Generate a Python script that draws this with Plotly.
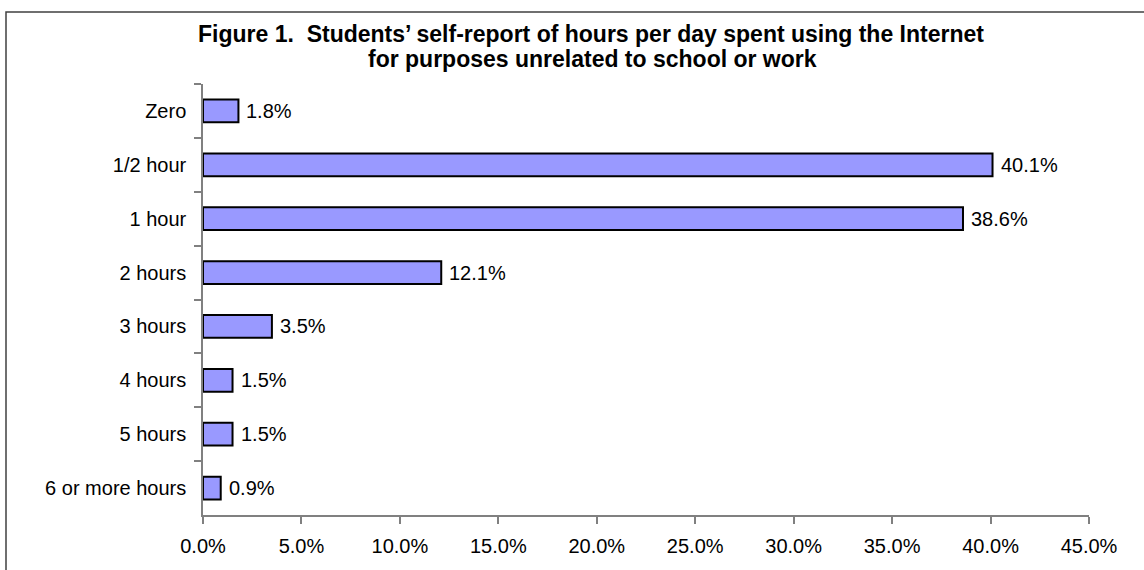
import plotly.graph_objects as go

categories = ["Zero", "1/2 hour", "1 hour", "2 hours", "3 hours", "4 hours", "5 hours", "6 or more hours"]
percent_values = [1.8, 40.1, 38.6, 12.1, 3.5, 1.5, 1.5, 0.9]
x_tick_values = [0, 5, 10, 15, 20, 25, 30, 35, 40, 45]
x_tick_labels = ["0.0%", "5.0%", "10.0%", "15.0%", "20.0%", "25.0%", "30.0%", "35.0%", "40.0%", "45.0%"]
title_line1 = "Figure 1.  Students\u2019 self-report of hours per day spent using the Internet"
title_line2 = "for purposes unrelated to school or work"

W, H = 1144, 570
L, R, T, B = 203, 55, 84, 55
pw, ph = W - L - R, H - T - B

def px_x(x):
    return (x - L) / pw

def px_y(y):
    return (H - B - y) / ph

FONT = "Liberation Sans, Arial, sans-serif"
FS = 20
TFS = 23

fig = go.Figure(go.Bar(
    y=categories,
    x=percent_values,
    orientation="h",
    width=0.42,
    marker=dict(color="#9999FF", line=dict(color="black", width=2)),
    hoverinfo="x+y",
))

annotations = []
for cat, v in zip(categories, percent_values):
    annotations.append(dict(
        x=v, y=cat, xref="x", yref="y", text=f"{v:.1f}%",
        showarrow=False, xanchor="left", yanchor="middle", xshift=6,
        font=dict(family=FONT, size=FS, color="black"),
    ))
annotations.append(dict(
    text=title_line1, xref="paper", yref="paper",
    x=px_x(591), y=px_y(34.5), xanchor="center", yanchor="middle",
    showarrow=False, font=dict(family=FONT, size=TFS, color="black", weight="bold"),
))
annotations.append(dict(
    text=title_line2, xref="paper", yref="paper",
    x=px_x(592), y=px_y(58.5), xanchor="center", yanchor="middle",
    showarrow=False, font=dict(family=FONT, size=TFS, color="black", weight="bold"),
))

fig.update_layout(
    width=W, height=H,
    margin=dict(l=L, r=R, t=T, b=B, autoexpand=False),
    paper_bgcolor="white", plot_bgcolor="white",
    showlegend=False,
    font=dict(family=FONT, size=FS, color="black"),
    xaxis=dict(
        range=[0, 45], tickvals=x_tick_values, ticktext=x_tick_labels,
        showgrid=False, zeroline=False,
        showline=True, linecolor="#808080", linewidth=1.5,
        ticks="outside", ticklen=7, tickcolor="#808080", tickwidth=1.5,
        tickfont=dict(family=FONT, size=FS, color="black"),
        ticklabelstandoff=5, automargin=False,
    ),
    yaxis=dict(
        categoryorder="array", categoryarray=categories,
        autorange="reversed",
        showgrid=False, zeroline=False,
        showline=True, linecolor="#808080", linewidth=1.5,
        ticks="outside", ticklen=7, tickcolor="#808080", tickwidth=1.5,
        tickson="boundaries",
        tickfont=dict(family=FONT, size=FS, color="black"),
        ticklabelstandoff=11, automargin=False,
    ),
    shapes=[dict(
        type="rect", xref="paper", yref="paper",
        x0=px_x(6), y0=px_y(620), x1=px_x(1200), y1=px_y(12),
        line=dict(color="#404040", width=1.5), layer="below",
    )],
    annotations=annotations,
)

fig.write_html(
    "out.html",
    config={"displayModeBar": False},
    post_script="document.body.style.margin='0';document.body.style.overflow='hidden';",
)
